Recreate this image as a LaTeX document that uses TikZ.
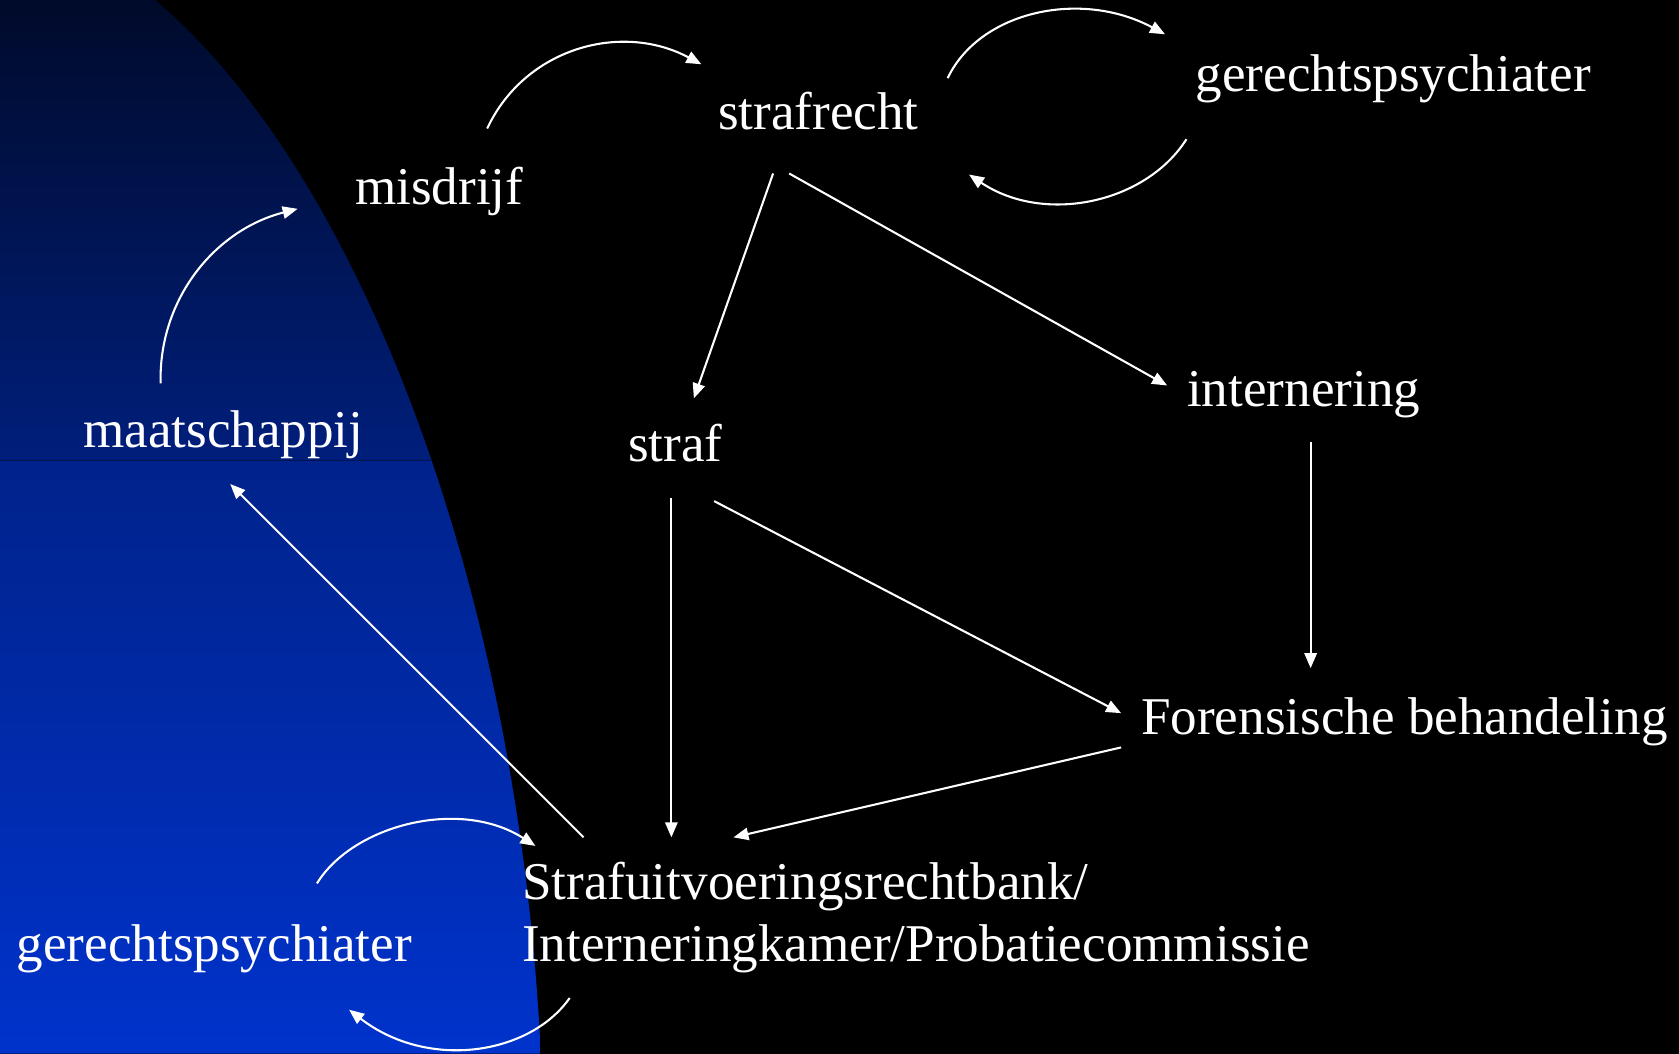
\documentclass[tikz,border=0pt]{standalone}
\usepackage{fontspec}
\setmainfont{Liberation Serif}
\usetikzlibrary{arrows.meta}
\definecolor{navytop}{HTML}{000A2A}
\definecolor{navymid}{HTML}{001F7C}
\definecolor{bluemid}{HTML}{00228A}
\definecolor{bluebot}{HTML}{0033CC}
\definecolor{seam}{HTML}{001450}
\begin{document}
\begin{tikzpicture}[x=0.01cm,y=-0.01cm,
  lbl/.style={text=white,font=\fontsize{14.1}{17}\selectfont,inner sep=0pt,anchor=base west},
  conn/.style={draw=white,line width=0.55pt,-{Triangle[length=0.14cm,width=0.115cm]}}]
\useasboundingbox (0,0) rectangle (1568,984);
\fill[black] (0,0) rectangle (1568,984);
\begin{scope}
\clip (0,0) -- (145,0) .. controls (340,165) and (485,560) .. (505,984) -- (0,984) -- cycle;
\shade[top color=navytop,bottom color=navymid] (0,0) rectangle (600,430);
\shade[top color=bluemid,bottom color=bluebot] (0,430) rectangle (600,984);
\draw[seam,line width=0.3pt] (0,430) -- (600,430);
\end{scope}
% labels
\node[lbl] (strafrecht) at (670,121) {strafrecht};
\node[lbl] (gpTop) at (1116,85) {gerechtspsychiater};
\node[lbl] (misdrijf) at (331,191) {misdrijf};
\node[lbl] (maats) at (77,418) {maatschappij};
\node[lbl] (straf) at (586,431) {straf};
\node[lbl] (intern) at (1108,380) {internering};
\node[lbl] (foren) at (1065,686) {Forensische behandeling};
\node[lbl] (svrA) at (487,840) {Strafuitvoeringsrechtbank/};
\node[lbl] (svrB) at (487,898) {Interneringkamer/Probatiecommissie};
\node[lbl] (gpBot) at (15,898) {gerechtspsychiater};
% connector ends
\coordinate (mdOut) at (455,120);
\coordinate (srIn) at (655,60);
\coordinate (srOutR) at (885,73);
\coordinate (gpTIn) at (1088,32);
\coordinate (gpTOut) at (1108,130);
\coordinate (srInR) at (905,163);
\coordinate (srOutA) at (722,162);
\coordinate (stIn) at (648,372);
\coordinate (srOutB) at (737,162);
\coordinate (inIn) at (1090,360);
\coordinate (msOut) at (150,358);
\coordinate (mdIn) at (278,195);
\coordinate (inOut) at (1224,413);
\coordinate (foIn) at (1224,624);
\coordinate (stOutA) at (627,465);
\coordinate (svIn) at (627,782);
\coordinate (stOutB) at (667,468);
\coordinate (foInB) at (1047,666);
\coordinate (foOut) at (1047,698);
\coordinate (svInB) at (685,782);
\coordinate (svOut) at (545,782);
\coordinate (msIn) at (215,452);
\coordinate (gpBOut) at (296,825);
\coordinate (svInC) at (500,790);
\coordinate (svOutC) at (532,932);
\coordinate (gpBIn) at (326,943);
% connectors
\draw[conn] (mdOut) .. controls (490,45) and (580,20) .. (srIn);
\draw[conn] (srOutR) .. controls (915,10) and (1010,-10) .. (gpTIn);
\draw[conn] (gpTOut) .. controls (1070,190) and (975,210) .. (srInR);
\draw[conn] (srOutA) -- (stIn);
\draw[conn] (srOutB) -- (inIn);
\draw[conn] (msOut) .. controls (148,280) and (200,215) .. (mdIn);
\draw[conn] (inOut) -- (foIn);
\draw[conn] (stOutA) -- (svIn);
\draw[conn] (stOutB) -- (foInB);
\draw[conn] (foOut) -- (svInB);
\draw[conn] (svOut) -- (msIn);
\draw[conn] (gpBOut) .. controls (330,770) and (430,745) .. (svInC);
\draw[conn] (svOutC) .. controls (495,985) and (400,1000) .. (gpBIn);
\end{tikzpicture}
\end{document}
